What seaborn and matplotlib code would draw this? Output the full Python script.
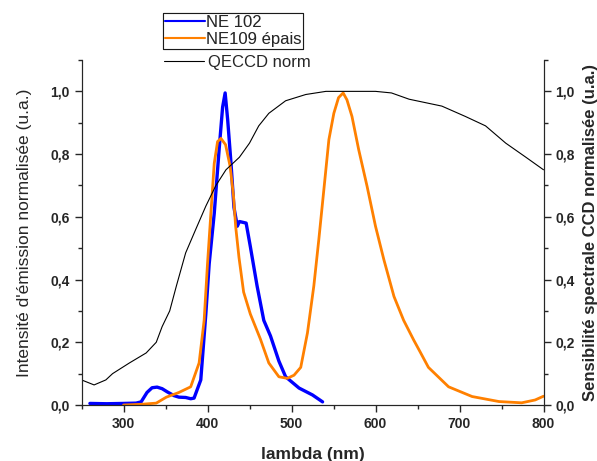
import numpy as np
import pandas as pd
import matplotlib
matplotlib.use("Agg")
import matplotlib.pyplot as plt
import seaborn as sns
from matplotlib.ticker import MultipleLocator, FuncFormatter
from matplotlib.lines import Line2D

# NE 102 emission (blue)
ne102_nm = [260, 280, 300, 315, 321, 328, 334, 340, 346, 352, 360, 366, 374, 380,
            384, 392, 398, 402, 408, 414, 418, 421, 424, 428, 431.5, 435.5, 438, 446,
            451, 459, 467, 475, 485, 493, 509, 525, 537]
ne102_val = [0.005, 0.004, 0.005, 0.006, 0.01, 0.04, 0.055, 0.057, 0.052, 0.042, 0.03,
             0.025, 0.024, 0.02, 0.022, 0.08, 0.29, 0.45, 0.61, 0.82, 0.95, 0.995, 0.91,
             0.77, 0.63, 0.57, 0.585, 0.58, 0.505, 0.38, 0.27, 0.22, 0.14, 0.09, 0.054,
             0.032, 0.01]

# NE109 epais emission (orange)
ne109_nm = [300, 320, 339, 351, 366, 380, 390, 396, 400, 404, 408, 412, 416, 421.5,
            427, 431, 433.5, 437.5, 443, 451, 463, 473, 485, 495, 503, 511, 519, 526.6,
            532.5, 538.5, 544.5, 550.4, 556, 561.5, 566, 572, 580, 590, 600, 610, 622,
            633.5, 645.5, 653, 663, 687, 715, 747, 774, 790, 800]
ne109_val = [0.0, 0.002, 0.006, 0.025, 0.04, 0.058, 0.134, 0.27, 0.45, 0.61, 0.77, 0.84,
             0.85, 0.83, 0.76, 0.665, 0.57, 0.47, 0.36, 0.29, 0.21, 0.134, 0.09, 0.085,
             0.095, 0.12, 0.23, 0.38, 0.527, 0.686, 0.846, 0.93, 0.98, 0.995, 0.973,
             0.92, 0.814, 0.697, 0.57, 0.463, 0.346, 0.27, 0.207, 0.17, 0.12, 0.058,
             0.027, 0.011, 0.007, 0.016, 0.028]

# QE of the CCD, normalised (black)
qe_nm = [250, 265, 279, 287, 307, 327, 339, 346, 355, 363, 374, 386, 398, 410, 422,
         438, 450, 461, 473, 493, 517, 541, 560, 600, 619, 640, 679, 707, 731, 755,
         779, 800]
qe_val = [0.08, 0.064, 0.08, 0.1, 0.134, 0.166, 0.2, 0.25, 0.30, 0.38, 0.485, 0.56,
          0.634, 0.70, 0.75, 0.79, 0.835, 0.89, 0.93, 0.97, 0.99, 1.0, 1.0, 1.0,
          0.995, 0.975, 0.953, 0.92, 0.89, 0.835, 0.79, 0.75]

sns.set_style("ticks")
plt.rcParams['font.family'] = ['Liberation Sans', 'DejaVu Sans']
plt.rcParams['xtick.direction'] = 'out'
plt.rcParams['ytick.direction'] = 'out'

fig = plt.figure(figsize=(5.97, 4.61), dpi=100)
ax = fig.add_axes([81.5 / 597, 1 - 405 / 461, (543.5 - 81.5) / 597, (405 - 60) / 461])
ax2 = ax.twinx()

df102 = pd.DataFrame({'nm': ne102_nm, 'val': ne102_val})
df109 = pd.DataFrame({'nm': ne109_nm, 'val': ne109_val})
dfqe = pd.DataFrame({'nm': qe_nm, 'val': qe_val})

sns.lineplot(data=df102, x='nm', y='val', ax=ax, color='#0000ff', linewidth=2.4)
sns.lineplot(data=df109, x='nm', y='val', ax=ax, color='#ff8000', linewidth=2.0)
sns.lineplot(data=dfqe, x='nm', y='val', ax=ax2, color='black', linewidth=0.8)

comma = FuncFormatter(lambda v, p: f"{v:.1f}".replace('.', ','))
for a in (ax, ax2):
    a.set_xlim(250, 800)
    a.set_ylim(0, 1.1)
    a.yaxis.set_major_locator(MultipleLocator(0.2))
    a.yaxis.set_minor_locator(MultipleLocator(0.1))
    a.yaxis.set_major_formatter(comma)
    a.spines['top'].set_visible(False)
    a.tick_params(axis='both', which='major', length=5, width=1, labelsize=10)
    a.tick_params(axis='both', which='minor', length=3, width=1)
    for lab in a.get_yticklabels():
        lab.set_fontweight('bold')
    a.set_xlabel('')
    a.set_ylabel('')

ax.xaxis.set_major_locator(MultipleLocator(100))
ax.xaxis.set_minor_locator(MultipleLocator(50))
for lab in ax.get_xticklabels():
    lab.set_fontweight('bold')
ax2.spines['right'].set_visible(True)

ax.set_xlabel('lambda (nm)', fontsize=12.5, fontweight='bold', labelpad=12)
ax.set_ylabel("Intensité d'émission normalisée (u.a.)", fontsize=12.5, labelpad=13)
ax2.set_ylabel('Sensibilité spectrale CCD normalisée (u.a.)', fontsize=12,
               fontweight='bold', labelpad=6)

h1 = [Line2D([], [], color='#0000ff', lw=1.5), Line2D([], [], color='#ff8000', lw=1.5)]
leg1 = fig.legend(h1, ['NE 102', 'NE109 épais'], loc='upper left',
                  bbox_to_anchor=(163 / 597, 1 - 13 / 461), frameon=True, fancybox=False,
                  fontsize=12, handlelength=2.4, handletextpad=0.05, borderpad=0.1,
                  labelspacing=0.15, borderaxespad=0)
leg1.get_frame().set_edgecolor('black')
leg1.get_frame().set_linewidth(0.8)
leg2 = fig.legend([Line2D([], [], color='black', lw=0.8)], ['QECCD norm'],
                  loc='upper left', bbox_to_anchor=(163 / 597, 1 - 54 / 461),
                  frameon=False, fontsize=12, handlelength=2.4, handletextpad=0.25,
                  borderpad=0.05, borderaxespad=0)
fig.add_artist(leg1)

fig.savefig('out.png', dpi=100)
